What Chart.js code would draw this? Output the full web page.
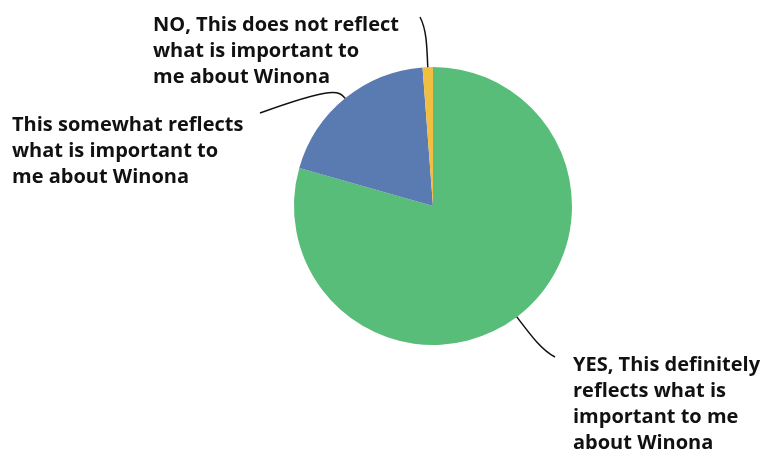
<!DOCTYPE html>
<html>
<head>
<meta charset="utf-8">
<script src="https://cdn.jsdelivr.net/npm/chart.js@4"></script>
<style>
  html, body { margin: 0; padding: 0; background: #fff; }
</style>
</head>
<body>
<canvas id="pie-chart" width="766" height="450"></canvas>
<script>
const answers = [
  ['YES, This definitely', 'reflects what is', 'important to me', 'about Winona'],
  ['This somewhat reflects', 'what is important to', 'me about Winona'],
  ['NO, This does not reflect', 'what is important to', 'me about Winona']
];
const shares = [79.4, 19.4, 1.2];
const sliceColors = ['#57BD79', '#5A7BB1', '#F0BE41'];

// where each label block sits (left x, first baseline) and where its leader line ends
const labelSpots = [
  { x: 573, y: 371, endX: 555, endY: 357, bend: 42 },
  { x: 12, y: 131, endX: 260, endY: 113, bend: 16 },
  { x: 153, y: 31, endX: 420, endY: 17, bend: 38 }
];

const FONT = 'bold 20px "Open Sans", sans-serif';
const LINE_H = 26;

const calloutPlugin = {
  id: 'callouts',
  afterDatasetsDraw(chart) {
    const ctx = chart.ctx;
    const arcs = chart.getDatasetMeta(0).data;
    ctx.save();
    arcs.forEach((arc, i) => {
      const { x, y, startAngle, endAngle, outerRadius } = arc.getProps(['x', 'y', 'startAngle', 'endAngle', 'outerRadius'], true);
      const mid = (startAngle + endAngle) / 2;
      const dx = Math.cos(mid), dy = Math.sin(mid);
      const sx = x + dx * outerRadius, sy = y + dy * outerRadius;
      const spot = labelSpots[i];
      const c1x = sx + dx * spot.bend * 0.6, c1y = sy + dy * spot.bend * 0.6;
      const c2x = sx + dx * spot.bend, c2y = sy + dy * spot.bend;
      ctx.beginPath();
      ctx.moveTo(sx, sy);
      ctx.bezierCurveTo(c1x, c1y, c2x, c2y, spot.endX, spot.endY);
      ctx.strokeStyle = '#111';
      ctx.lineWidth = 1.5;
      ctx.stroke();

      ctx.fillStyle = '#111';
      ctx.font = FONT;
      ctx.textAlign = 'left';
      ctx.textBaseline = 'alphabetic';
      answers[i].forEach((line, k) => {
        ctx.fillText(line, spot.x, spot.y + k * LINE_H);
      });
    });
    ctx.restore();
  }
};

new Chart(document.querySelector('#pie-chart').getContext('2d'), {
  type: 'pie',
  data: {
    labels: answers.map(a => a.join(' ')),
    datasets: [{
      data: shares,
      backgroundColor: sliceColors,
      borderWidth: 0
    }]
  },
  options: {
    responsive: false,
    animation: false,
    layout: { padding: { left: 294, right: 194, top: 67, bottom: 105 } },
    plugins: {
      legend: { display: false },
      tooltip: { enabled: false }
    }
  },
  plugins: [calloutPlugin]
});
</script>
</body>
</html>
